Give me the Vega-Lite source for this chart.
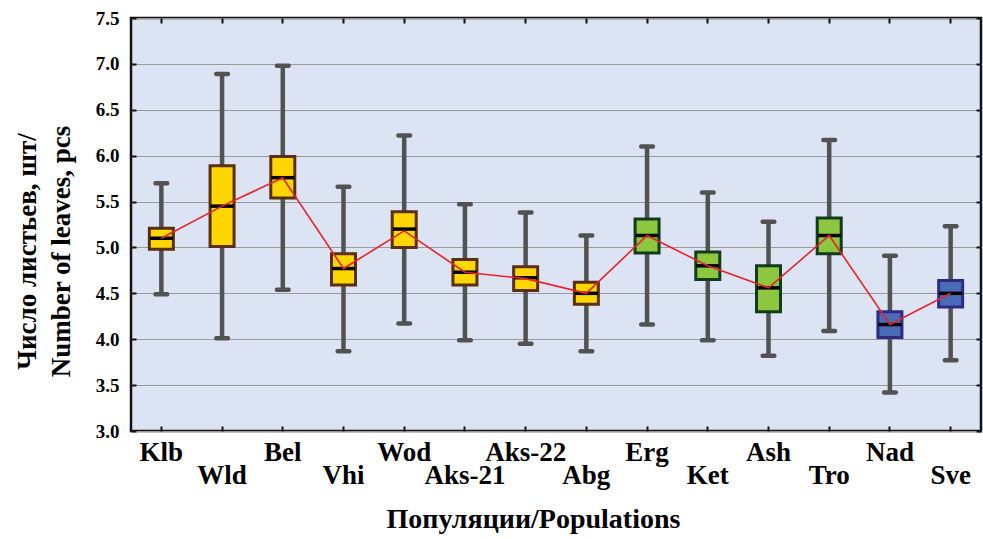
{
  "$schema": "https://vega.github.io/schema/vega-lite/v6.json",
  "width": 850,
  "height": 413,
  "autosize": {"type": "none"},
  "padding": {"left": 131, "top": 18, "right": 2, "bottom": 108},
  "background": "white",
  "config": {
    "view": {"fill": "#DCE4F3", "stroke": "#111111", "strokeWidth": 2.5},
    "font": "Liberation Serif"
  },
  "data": {
    "values": [
      {"pop": "Klb", "grp": "A", "lo": 4.49, "q1": 4.98, "med": 5.10, "q3": 5.21, "hi": 5.70, "mean": 5.10},
      {"pop": "Wld", "grp": "A", "lo": 4.01, "q1": 5.01, "med": 5.45, "q3": 5.89, "hi": 6.89, "mean": 5.45},
      {"pop": "Bel", "grp": "A", "lo": 4.54, "q1": 5.54, "med": 5.76, "q3": 5.99, "hi": 6.98, "mean": 5.76},
      {"pop": "Vhi", "grp": "A", "lo": 3.87, "q1": 4.59, "med": 4.77, "q3": 4.93, "hi": 5.66, "mean": 4.77},
      {"pop": "Wod", "grp": "A", "lo": 4.17, "q1": 5.00, "med": 5.20, "q3": 5.39, "hi": 6.22, "mean": 5.18},
      {"pop": "Aks-21", "grp": "A", "lo": 3.99, "q1": 4.59, "med": 4.73, "q3": 4.87, "hi": 5.47, "mean": 4.73},
      {"pop": "Aks-22", "grp": "A", "lo": 3.95, "q1": 4.53, "med": 4.67, "q3": 4.79, "hi": 5.38, "mean": 4.66},
      {"pop": "Abg", "grp": "A", "lo": 3.87, "q1": 4.38, "med": 4.50, "q3": 4.62, "hi": 5.13, "mean": 4.50},
      {"pop": "Erg", "grp": "B", "lo": 4.16, "q1": 4.94, "med": 5.13, "q3": 5.31, "hi": 6.10, "mean": 5.13},
      {"pop": "Ket", "grp": "B", "lo": 3.99, "q1": 4.65, "med": 4.80, "q3": 4.95, "hi": 5.60, "mean": 4.80},
      {"pop": "Ash", "grp": "B", "lo": 3.82, "q1": 4.30, "med": 4.56, "q3": 4.80, "hi": 5.28, "mean": 4.56},
      {"pop": "Tro", "grp": "B", "lo": 4.09, "q1": 4.93, "med": 5.13, "q3": 5.32, "hi": 6.17, "mean": 5.13},
      {"pop": "Nad", "grp": "C", "lo": 3.42, "q1": 4.02, "med": 4.16, "q3": 4.30, "hi": 4.91, "mean": 4.16},
      {"pop": "Sve", "grp": "C", "lo": 3.77, "q1": 4.35, "med": 4.50, "q3": 4.64, "hi": 5.23, "mean": 4.50}
    ]
  },
  "layer": [
    {
      "mark": {"type": "rule", "color": "#525252", "strokeWidth": 4.5},
      "encoding": {
        "x": {
          "field": "pop", "type": "nominal", "sort": null,
          "scale": {"paddingInner": 0, "paddingOuter": 0},
          "axis": {
            "orient": "bottom",
            "title": "Популяции/Populations",
            "titleFont": "Liberation Serif", "titleFontSize": 28, "titleFontWeight": "bold", "titleColor": "#000000",
            "titleX": 402, "titleY": 96, "titleAlign": "center", "titleBaseline": "alphabetic", "titleAnchor": "start",
            "labelAngle": 0, "labelFont": "Liberation Serif", "labelFontSize": 27, "labelFontWeight": "bold", "labelColor": "#000000",
            "labelBaseline": "alphabetic", "labelOverlap": false, "labelFlush": false, "labelBound": false,
            "labelPadding": {"condition": {"test": "indexof(['Wld','Vhi','Aks-21','Abg','Ket','Tro','Sve'], datum.value) >= 0", "value": 57}, "value": 34},
            "tickSize": -5, "tickWidth": 2, "tickColor": "#111111",
            "domain": false, "grid": false
          }
        },
        "y": {
          "field": "lo", "type": "quantitative",
          "scale": {"domain": [3, 7.5], "nice": false, "zero": false},
          "axis": {
            "orient": "left",
            "values": [3, 3.5, 4, 4.5, 5, 5.5, 6, 6.5, 7, 7.5],
            "format": ".1f",
            "title": ["Число листьев, шт/", "Number of leaves, pcs"],
            "titleFont": "Liberation Serif", "titleFontSize": 27, "titleFontWeight": "bold", "titleColor": "#000000",
            "titleAngle": -90, "titleX": -96, "titleY": 233, "titleAlign": "center", "titleBaseline": "alphabetic", "titleLineHeight": 34,
            "labelFont": "Liberation Serif", "labelFontSize": 19, "labelFontWeight": "bold", "labelColor": "#000000",
            "labelPadding": 17, "labelOverlap": false, "labelFlush": false,
            "tickSize": -5, "tickWidth": 2, "tickColor": "#111111",
            "grid": true, "gridColor": "#9a9a9a", "gridWidth": 1.2,
            "domain": false
          }
        },
        "y2": {"field": "hi"}
      }
    },
    {
      "mark": {"type": "tick", "color": "#525252", "size": 16, "thickness": 4.5, "opacity": 1, "cornerRadius": 2},
      "encoding": {
        "x": {"field": "pop", "type": "nominal", "sort": null, "axis": null},
        "y": {"field": "lo", "type": "quantitative", "axis": null}
      }
    },
    {
      "mark": {"type": "tick", "color": "#525252", "size": 16, "thickness": 4.5, "opacity": 1, "cornerRadius": 2},
      "encoding": {
        "x": {"field": "pop", "type": "nominal", "sort": null, "axis": null},
        "y": {"field": "hi", "type": "quantitative", "axis": null}
      }
    },
    {
      "mark": {"type": "bar", "size": 24, "strokeWidth": 3, "opacity": 1},
      "encoding": {
        "x": {"field": "pop", "type": "nominal", "sort": null, "axis": null},
        "y": {"field": "q1", "type": "quantitative", "axis": null},
        "y2": {"field": "q3"},
        "fill": {"field": "grp", "type": "nominal", "scale": {"domain": ["A", "B", "C"], "range": ["#FFD700", "#8DC63F", "#4A6CB8"]}, "legend": null},
        "stroke": {"field": "grp", "type": "nominal", "scale": {"domain": ["A", "B", "C"], "range": ["#5A2E0E", "#123A1C", "#2F2B84"]}, "legend": null}
      }
    },
    {
      "mark": {"type": "tick", "color": "#000000", "size": 23, "thickness": 3.5, "opacity": 1},
      "encoding": {
        "x": {"field": "pop", "type": "nominal", "sort": null, "axis": null},
        "y": {"field": "med", "type": "quantitative", "axis": null}
      }
    },
    {
      "mark": {"type": "line", "color": "#E8222A", "strokeWidth": 1.6},
      "encoding": {
        "x": {
          "field": "pop", "type": "nominal", "sort": null,
          "axis": {"orient": "top", "labels": false, "title": null, "tickSize": -5, "tickWidth": 2, "tickColor": "#111111", "domain": false, "grid": false}
        },
        "y": {
          "field": "mean", "type": "quantitative",
          "axis": {"orient": "right", "labels": false, "title": null, "values": [3, 3.5, 4, 4.5, 5, 5.5, 6, 6.5, 7, 7.5], "tickSize": -5, "tickWidth": 2, "tickColor": "#111111", "domain": false, "grid": false}
        }
      }
    }
  ],
  "resolve": {"axis": {"x": "independent", "y": "independent"}}
}
